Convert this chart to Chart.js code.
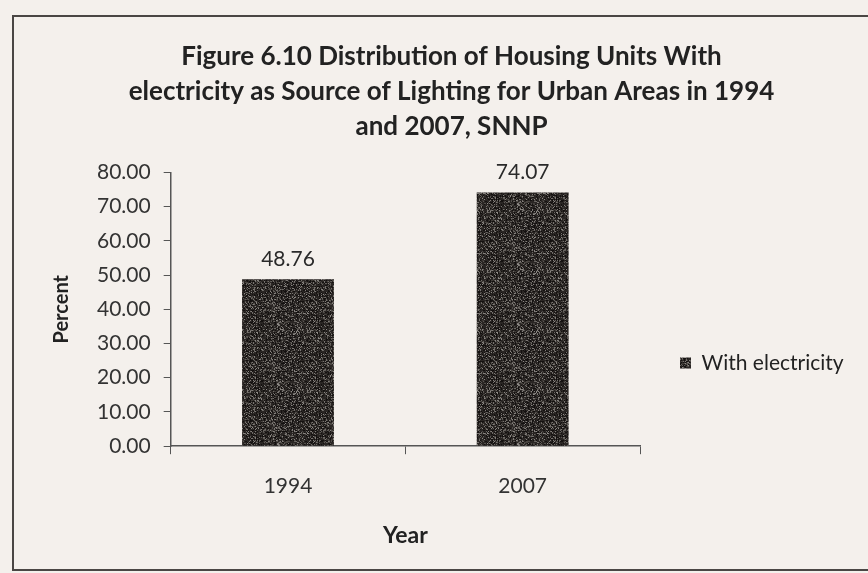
<!DOCTYPE html>
<html>
<head>
<meta charset="utf-8">
<script src="https://cdn.jsdelivr.net/npm/chart.js@4/dist/chart.umd.min.js"></script>
<style>
  html, body { margin: 0; padding: 0; background: #f4f0ec; }
  #wrap { position: relative; width: 868px; height: 573px; overflow: hidden; }
  #frame { position: absolute; left: 12px; top: 15px; width: 880px; height: 556px;
           border: 2px solid #4a4644; box-sizing: border-box; }
  canvas { position: absolute; left: 0; top: 0; }
</style>
</head>
<body>
<div id="wrap">
  <div id="frame"></div>
  <canvas id="chart" width="868" height="573"></canvas>
</div>
<script>
const years = ["1994", "2007"];
const withElectricity = [48.76, 74.07];
const titleLines = [
  "Figure 6.10 Distribution of Housing Units With",
  "electricity as Source of Lighting for Urban Areas in 1994",
  "and 2007, SNNP"
];

const FONT = "Lato, 'Open Sans', sans-serif";
const LEGEND_WIDTH = 213;
const LEGEND_DROP = 69;

// grainy dark fill, like a photocopied solid
function speckle() {
  const c = document.createElement("canvas");
  c.width = 60; c.height = 60;
  const g = c.getContext("2d");
  g.fillStyle = "#2a2624";
  g.fillRect(0, 0, 60, 60);
  let h = 12345;
  for (let y = 0; y < 60; y++) {
    for (let x = 0; x < 60; x++) {
      h = (h * 1103515245 + 12345) & 0x7fffffff;
      const r = (h >> 8) % 100;
      if (r < 28) {
        const v = 62 + (r * 3);
        g.fillStyle = "rgb(" + v + "," + (v - 4) + "," + (v - 8) + ")";
        g.fillRect(x, y, r < 6 ? 2 : 1, 1);
      } else if (r > 76) {
        g.fillStyle = "#141110";
        g.fillRect(x, y, 1, 1);
      }
    }
  }
  return g.createPattern(c, "repeat");
}

const valueLabels = {
  id: "valueLabels",
  afterDatasetsDraw(chart) {
    const ctx = chart.ctx;
    const meta = chart.getDatasetMeta(0);
    ctx.save();
    ctx.font = "21px " + FONT;
    ctx.fillStyle = "#2a2a2a";
    ctx.textAlign = "center";
    ctx.textBaseline = "bottom";
    meta.data.forEach((bar, i) => {
      ctx.fillText(withElectricity[i].toFixed(2), bar.x, bar.y - 10);
    });
    ctx.restore();
  }
};

// wider legend box set away from the plot, and sitting a bit lower
const wideLegend = {
  id: "wideLegend",
  beforeLayout(chart) {
    const lg = chart.legend;
    if (!lg || lg._wide) return;
    const fit = lg.fit.bind(lg);
    lg.fit = function () {
      fit();
      this.width = LEGEND_WIDTH;
    };
    lg._wide = true;
  },
  afterLayout(chart) {
    const lg = chart.legend;
    if (!lg) return;
    lg.top += LEGEND_DROP;
    lg.bottom += LEGEND_DROP;
  }
};

new Chart(document.getElementById("chart"), {
  type: "bar",
  data: {
    labels: years,
    datasets: [{
      label: "With electricity",
      data: withElectricity,
      backgroundColor: speckle(),
      borderWidth: 0,
      barPercentage: 0.9,
      categoryPercentage: 0.435
    }]
  },
  options: {
    responsive: false,
    animation: false,
    devicePixelRatio: 1,
    layout: { padding: { top: 39, left: 50, right: 15, bottom: 24 } },
    plugins: {
      title: {
        display: true,
        text: titleLines,
        color: "#222",
        font: { family: FONT, size: 26, weight: "bold", lineHeight: 1.35 },
        padding: { top: 0, bottom: 28 }
      },
      legend: {
        position: "right",
        labels: {
          color: "#222",
          font: { family: FONT, size: 21 },
          boxWidth: 11,
          boxHeight: 11,
          padding: 40
        }
      },
      tooltip: { enabled: false }
    },
    scales: {
      y: {
        min: 0,
        max: 80,
        ticks: {
          stepSize: 10,
          color: "#333",
          font: { family: FONT, size: 21 },
          padding: 13,
          callback: v => v.toFixed(2)
        },
        grid: { drawOnChartArea: false, tickLength: 7, color: "#555" },
        border: { color: "#555", width: 1.5 },
        title: {
          display: true,
          text: "Percent",
          color: "#222",
          font: { family: FONT, size: 20, weight: "bold" },
          padding: { top: 0, bottom: 10 }
        }
      },
      x: {
        ticks: {
          color: "#333",
          font: { family: FONT, size: 21 },
          padding: 19
        },
        grid: { drawOnChartArea: false, tickLength: 8, color: "#555", offset: true },
        border: { color: "#555", width: 1.5 },
        title: {
          display: true,
          text: "Year",
          color: "#222",
          font: { family: FONT, size: 23, weight: "bold" },
          padding: { top: 4, bottom: 0 }
        }
      }
    }
  },
  plugins: [valueLabels, wideLegend]
});
</script>
</body>
</html>
